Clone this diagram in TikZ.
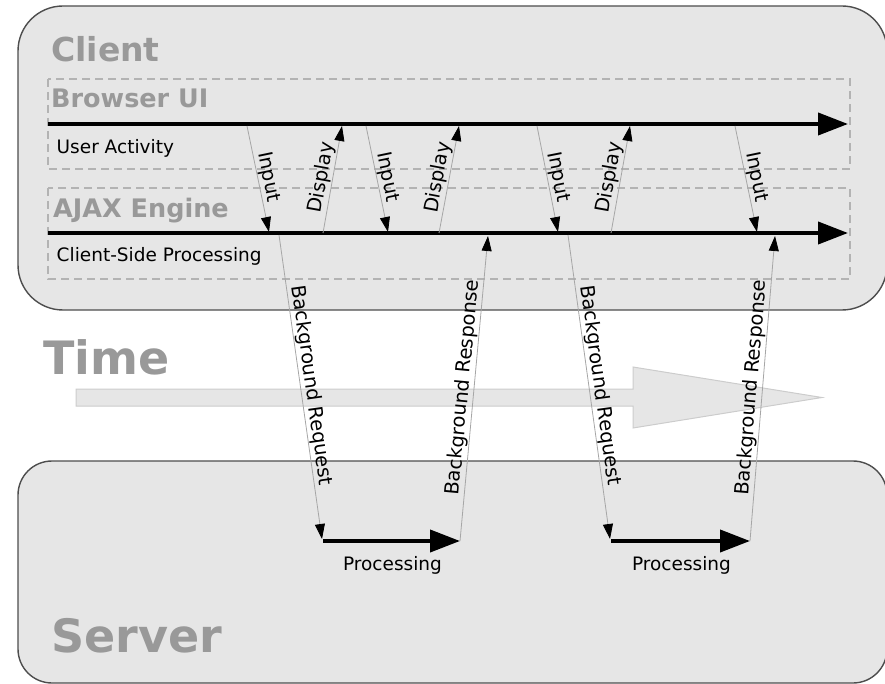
\documentclass[tikz,border=0pt]{standalone}
\usepackage{fontspec}
\setmainfont{DejaVu Sans}
\usetikzlibrary{arrows.meta}
\definecolor{boxfill}{HTML}{E6E6E6}
\definecolor{boxline}{HTML}{4D4D4D}
\definecolor{headgray}{HTML}{999999}
\definecolor{dashgray}{HTML}{B3B3B3}
\definecolor{thingray}{HTML}{A6A6A6}
\definecolor{timeline}{HTML}{CCCCCC}
\begin{document}
\begin{tikzpicture}[x=1pt,y=-1pt,
  tier/.style={draw=boxline, fill=boxfill, line width=1.4pt},
  lane/.style={draw=dashgray, line width=2.6pt, dash pattern=on 8pt off 5pt},
  bighead/.style={text=headgray, font=\bfseries\fontsize{46}{50}\selectfont, inner sep=0pt, anchor=base west},
  midhead/.style={text=headgray, font=\bfseries\fontsize{33}{36}\selectfont, inner sep=0pt, anchor=base west},
  lanehead/.style={text=headgray, font=\bfseries\fontsize{25.5}{28}\selectfont, inner sep=0pt, anchor=base west},
  plain/.style={font=\fontsize{18.5}{21}\selectfont, inner sep=0pt, anchor=base west},
  flow/.style={line width=4pt, -{Triangle[length=30pt,width=22pt]}},
  msg/.style={draw=thingray, line width=0.8pt, -{Triangle[length=15pt,width=10pt,color=black]}},
  lbl/.style={font=\fontsize{19.5}{22}\selectfont, inner sep=1pt, midway, above, sloped}
]
\useasboundingbox (0,0) rectangle (885,684);

% tiers
\draw[tier, rounded corners=45pt] (18,6) rectangle (887,310);
\draw[tier, rounded corners=34pt] (18,461) rectangle (887,683);

% lanes
\draw[lane] (48,79) rectangle (850,169);
\draw[lane] (48,188) rectangle (850,279);

% time arrow
\draw[fill=boxfill, draw=timeline, line width=1pt]
  (76,389) -- (633,389) -- (633,367) -- (822,397.5) -- (633,428) -- (633,406) -- (76,406) -- cycle;

% headings
\node[midhead] (client) at (51,62) {Client};
\node[lanehead] (browser) at (51,108) {Browser UI};
\node[lanehead] (ajax) at (53,218) {AJAX Engine};
\node[plain] (useract) at (56.5,154) {User Activity};
\node[plain] (csp) at (56.5,262) {Client-Side Processing};
\node[bighead] (time) at (43,374) {Time};
\node[bighead] (server) at (51,652) {Server};

% timelines
\coordinate (ua0) at (48,124);
\coordinate (ua1) at (848,124);
\coordinate (cp0) at (48,233);
\coordinate (cp1) at (848,233);
\draw[flow] (ua0) -- (ua1);
\draw[flow] (cp0) -- (cp1);

% input / display
\coordinate (i1a) at (247,126); \coordinate (i1b) at (269,232);
\coordinate (d1a) at (323,233); \coordinate (d1b) at (342,126);
\coordinate (i2a) at (366,126); \coordinate (i2b) at (388,232);
\coordinate (d2a) at (439,233); \coordinate (d2b) at (459,126);
\coordinate (i3a) at (537,126); \coordinate (i3b) at (558,232);
\coordinate (d3a) at (611,233); \coordinate (d3b) at (630,126);
\coordinate (i4a) at (735,126); \coordinate (i4b) at (757,232);
\draw[msg] (i1a) -- node[lbl] {Input} (i1b);
\draw[msg] (d1a) -- node[lbl] {Display} (d1b);
\draw[msg] (i2a) -- node[lbl] {Input} (i2b);
\draw[msg] (d2a) -- node[lbl] {Display} (d2b);
\draw[msg] (i3a) -- node[lbl] {Input} (i3b);
\draw[msg] (d3a) -- node[lbl] {Display} (d3b);
\draw[msg] (i4a) -- node[lbl] {Input} (i4b);

% background request / response
\coordinate (r1a) at (279,235); \coordinate (p1a) at (323,541);
\coordinate (p1b) at (460,541); \coordinate (s1b) at (488,236);
\coordinate (r2a) at (568,235); \coordinate (p2a) at (611,541);
\coordinate (p2b) at (750,541); \coordinate (s2b) at (775,236);
\draw[msg] (r1a) -- node[lbl] {Background Request} ([shift={(-1,-2)}]p1a);
\draw[msg] (p1b) -- node[lbl] {Background Response} (s1b);
\draw[msg] (r2a) -- node[lbl] {Background Request} ([shift={(-1,-2)}]p2a);
\draw[msg] (p2b) -- node[lbl] {Background Response} (s2b);

% processing
\draw[flow] (p1a) -- (p1b);
\draw[flow] (p2a) -- (p2b);
\node[plain, anchor=base] (proc1) at (392.5,570) {Processing};
\node[plain, anchor=base] (proc2) at (681.5,570) {Processing};
\end{tikzpicture}
\end{document}
